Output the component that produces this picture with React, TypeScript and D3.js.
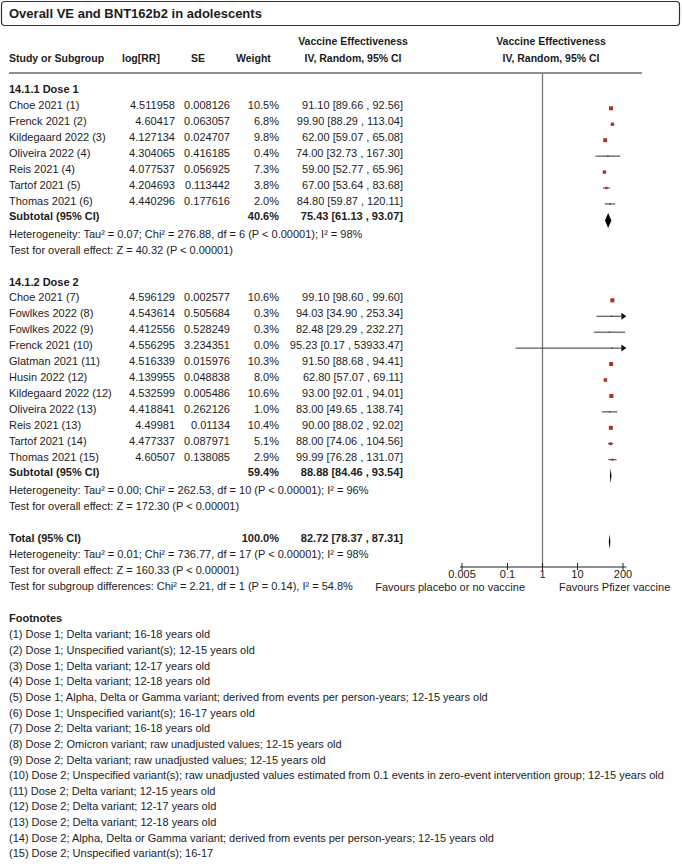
import React from "react";
import * as d3 from "d3";

const studies1 = ["Choe 2021 (1)", "Frenck 2021 (2)", "Kildegaard 2022 (3)", "Oliveira 2022 (4)", "Reis 2021 (4)", "Tartof 2021 (5)", "Thomas 2021 (6)"];
const logRR1 = ["4.511958", "4.60417", "4.127134", "4.304065", "4.077537", "4.204693", "4.440296"];
const se1 = ["0.008126", "0.063057", "0.024707", "0.416185", "0.056925", "0.113442", "0.177616"];
const weight1 = [10.5, 6.8, 9.8, 0.4, 7.3, 3.8, 2.0];
const ve1 = [91.10, 99.90, 62.00, 74.00, 59.00, 67.00, 84.80];
const lo1 = [89.66, 88.29, 59.07, 32.73, 52.77, 53.64, 59.87];
const hi1 = [92.56, 113.04, 65.08, 167.30, 65.96, 83.68, 120.11];

const studies2 = ["Choe 2021 (7)", "Fowlkes 2022 (8)", "Fowlkes 2022 (9)", "Frenck 2021 (10)", "Glatman 2021 (11)", "Husin 2022 (12)", "Kildegaard 2022 (12)", "Oliveira 2022 (13)", "Reis 2021 (13)", "Tartof 2021 (14)", "Thomas 2021 (15)"];
const logRR2 = ["4.596129", "4.543614", "4.412556", "4.556295", "4.516339", "4.139955", "4.532599", "4.418841", "4.49981", "4.477337", "4.60507"];
const se2 = ["0.002577", "0.505684", "0.528249", "3.234351", "0.015976", "0.048838", "0.005486", "0.262126", "0.01134", "0.087971", "0.138085"];
const weight2 = [10.6, 0.3, 0.3, 0.0, 10.3, 8.0, 10.6, 1.0, 10.4, 5.1, 2.9];
const ve2 = [99.10, 94.03, 82.48, 95.23, 91.50, 62.80, 93.00, 83.00, 90.00, 88.00, 99.99];
const lo2 = [98.60, 34.90, 29.29, 0.17, 88.68, 57.07, 92.01, 49.65, 88.02, 74.06, 76.28];
const hi2 = [99.60, 253.34, 232.27, 53933.47, 94.41, 69.11, 94.01, 138.74, 92.02, 104.56, 131.07];

// [estimate, lower, upper, weight]
const subtotal1 = [75.43, 61.13, 93.07, 40.6];
const subtotal2 = [88.88, 84.46, 93.54, 59.4];
const total = [82.72, 78.37, 87.31, 100.0];

const groupTitles = ["14.1.1 Dose 1", "14.1.2 Dose 2"];
const heterogeneity = [
  "Heterogeneity: Tau² = 0.07; Chi² = 276.88, df = 6 (P < 0.00001); I² = 98%",
  "Heterogeneity: Tau² = 0.00; Chi² = 262.53, df = 10 (P < 0.00001); I² = 96%",
  "Heterogeneity: Tau² = 0.01; Chi² = 736.77, df = 17 (P < 0.00001); I² = 98%",
];
const overallEffect = [
  "Test for overall effect: Z = 40.32 (P < 0.00001)",
  "Test for overall effect: Z = 172.30 (P < 0.00001)",
  "Test for overall effect: Z = 160.33 (P < 0.00001)",
];
const subgroupTest = "Test for subgroup differences: Chi² = 2.21, df = 1 (P = 0.14), I² = 54.8%";

const tickValues = [0.005, 0.1, 1, 10, 200];
const tickLabels = ["0.005", "0.1", "1", "10", "200"];
const axisDomain = [0.005, 200];
const clipDomain = [0.0044, 250];

const footnotes = [
  "(1) Dose 1; Delta variant; 16-18 years old",
  "(2) Dose 1; Unspecified variant(s); 12-15 years old",
  "(3) Dose 1; Delta variant; 12-17 years old",
  "(4) Dose 1; Delta variant; 12-18 years old",
  "(5) Dose 1; Alpha, Delta or Gamma variant; derived from events per person-years; 12-15 years old",
  "(6) Dose 1; Unspecified variant(s); 16-17 years old",
  "(7) Dose 2; Delta variant; 16-18 years old",
  "(8) Dose 2; Omicron variant; raw unadjusted values; 12-15 years old",
  "(9) Dose 2; Delta variant; raw unadjusted values; 12-15 years old",
  "(10) Dose 2; Unspecified variant(s); raw unadjusted values estimated from 0.1 events in zero-event intervention group; 12-15 years old",
  "(11) Dose 2; Delta variant; 12-15 years old",
  "(12) Dose 2; Delta variant; 12-17 years old",
  "(13) Dose 2; Delta variant; 12-18 years old",
  "(14) Dose 2; Alpha, Delta or Gamma variant; derived from events per person-years; 12-15 years old",
  "(15) Dose 2; Unspecified variant(s); 16-17",
];

const FONT = "'Liberation Sans', Arial, sans-serif";
const TXT = "#1c1c1c";
const RED = "#b0302c";

const ciText = (v: number, l: number, h: number) => `${v.toFixed(2)} [${l.toFixed(2)} , ${h.toFixed(2)}]`;

export default function App() {
  const W = 682, H = 866;
  const x = d3.scaleLog().domain(axisDomain).range([462, 623]);
  const xmin = x(clipDomain[0]);
  const xmax = x(clipDomain[1]);
  const axisY = 567;

  const colName = 9, colLog = 175, colSE = 230, colW = 279, colCI = 403;

  const g1Start = 109.3, g2Start = 301.3, step = 15.94;

  const fs = 11;

  const studyRow = (name: string, lg: string, se: string, w: number, v: number, l: number, h: number, y: number, key: string) => {
    const side = Math.max(1.6, 1.25 * Math.sqrt(w));
    const cx = x(v);
    const my = y - 1;
    const left = Math.max(x(l), xmin);
    const arrowRight = h > clipDomain[1];
    const arrowLeft = l < clipDomain[0];
    const right = arrowRight ? xmax - 5 : x(h);
    return (
      <g key={key}>
        <text x={colName} y={y}>{name}</text>
        <text x={colLog} y={y} textAnchor="end">{lg}</text>
        <text x={colSE} y={y} textAnchor="end">{se}</text>
        <text x={colW} y={y} textAnchor="end">{w.toFixed(1)}%</text>
        <text x={colCI} y={y} textAnchor="end">{ciText(v, l, h)}</text>
        <line x1={arrowLeft ? xmin + 5 : left} x2={right} y1={my} y2={my} stroke="#333" strokeWidth={1} />
        {arrowRight && (
          <path d={`M${xmax},${my} L${xmax - 5},${my - 3.5} L${xmax - 5},${my + 3.5} Z`} fill="#111" />
        )}
        <rect x={cx - side / 2} y={my - side / 2} width={side} height={side} fill={RED} />
      </g>
    );
  };

  const diamond = (vals: number[], y: number) => {
    const [v, l, h] = vals;
    const hh = 7.5;
    return <path d={`M${x(l)},${y} L${x(v)},${y - hh} L${x(h)},${y} L${x(v)},${y + hh} Z`} fill="#000" />;
  };

  const summaryRow = (label: string, vals: number[], y: number) => (
    <g>
      <text x={colName} y={y} fontWeight="bold">{label}</text>
      <text x={colW} y={y} textAnchor="end" fontWeight="bold">{vals[3].toFixed(1)}%</text>
      <text x={colCI} y={y} textAnchor="end" fontWeight="bold">{ciText(vals[0], vals[1], vals[2])}</text>
      {diamond(vals, y)}
    </g>
  );

  const g1Sub = g1Start + step * studies1.length - 0.5;
  const g2Sub = g2Start + step * studies2.length - 0.8;

  return (
    <svg width={W} height={H} style={{ position: "absolute", left: 0, top: 0, background: "#fff" }} fontFamily={FONT} fontSize={fs} fill={TXT}>
      <rect x={0} y={0} width={W} height={H} fill="#fff" />
      {/* title box */}
      <rect x={1.5} y={1.5} width={678} height={24} rx={3} fill="none" stroke="#333" strokeWidth={1.2} />
      <text x={9} y={17.5} fontWeight="bold" fontSize={13}>Overall VE and BNT162b2 in adolescents</text>

      {/* header */}
      <g fontWeight="bold" fontSize={10.5}>
        <text x={353} y={44.5} textAnchor="middle">Vaccine Effectiveness</text>
        <text x={353} y={62} textAnchor="middle">IV, Random, 95% CI</text>
        <text x={551} y={44.5} textAnchor="middle">Vaccine Effectiveness</text>
        <text x={551} y={62} textAnchor="middle">IV, Random, 95% CI</text>
        <text x={colName} y={62}>Study or Subgroup</text>
        <text x={122} y={62}>log[RR]</text>
        <text x={191} y={62}>SE</text>
        <text x={236} y={62}>Weight</text>
      </g>
      <line x1={9} x2={642} y1={73} y2={73} stroke="#222" strokeWidth={1} />

      {/* null line */}
      <line x1={x(1)} x2={x(1)} y1={73.5} y2={axisY} stroke="#777" strokeWidth={1.3} />

      {/* group 1 */}
      <text x={colName} y={93.3} fontWeight="bold">{groupTitles[0]}</text>
      {studies1.map((s, i) => studyRow(s, logRR1[i], se1[i], weight1[i], ve1[i], lo1[i], hi1[i], g1Start + step * i, "a" + i))}
      {summaryRow("Subtotal (95% CI)", subtotal1, g1Sub)}
      <text x={colName} y={238.3}>{heterogeneity[0]}</text>
      <text x={colName} y={253.8}>{overallEffect[0]}</text>

      {/* group 2 */}
      <text x={colName} y={285.7} fontWeight="bold">{groupTitles[1]}</text>
      {studies2.map((s, i) => studyRow(s, logRR2[i], se2[i], weight2[i], ve2[i], lo2[i], hi2[i], g2Start + step * i, "b" + i))}
      {summaryRow("Subtotal (95% CI)", subtotal2, g2Sub)}
      <text x={colName} y={494}>{heterogeneity[1]}</text>
      <text x={colName} y={510}>{overallEffect[1]}</text>

      {/* total */}
      {summaryRow("Total (95% CI)", total, 541.7)}
      <text x={colName} y={557.5}>{heterogeneity[2]}</text>
      <text x={colName} y={573.5}>{overallEffect[2]}</text>
      <text x={colName} y={590}>{subgroupTest}</text>

      {/* axis */}
      <line x1={xmin} x2={xmax} y1={axisY} y2={axisY} stroke="#222" strokeWidth={1} />
      {tickValues.map((t, i) => (
        <g key={"t" + i}>
          <line x1={x(t)} x2={x(t)} y1={axisY - 4} y2={axisY + 3} stroke="#222" strokeWidth={1} />
          <text x={x(t)} y={578} textAnchor="middle">{tickLabels[i]}</text>
        </g>
      ))}
      <text x={525} y={591} textAnchor="end">Favours placebo or no vaccine</text>
      <text x={559} y={591}>Favours Pfizer vaccine</text>

      {/* footnotes */}
      <text x={colName} y={622.3} fontWeight="bold">Footnotes</text>
      {footnotes.map((f, i) => (
        <text key={"f" + i} x={colName} y={638.3 + 15.65 * i}>{f}</text>
      ))}
    </svg>
  );
}
